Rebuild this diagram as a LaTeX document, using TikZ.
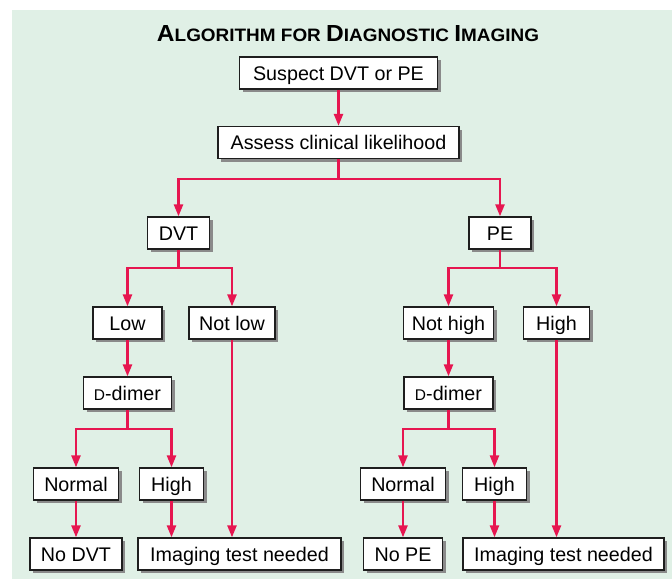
\documentclass[tikz,border=0pt]{standalone}
\usepackage{fontspec}
\setmainfont{Liberation Sans}
\usetikzlibrary{arrows.meta,shadows}

\definecolor{panelgreen}{RGB}{224,240,230}
\definecolor{flowred}{RGB}{230,22,80}
\definecolor{boxline}{RGB}{30,30,30}
\definecolor{shadowgray}{RGB}{138,138,138}

% a capital letter followed by small capitals
\newcommand{\capsmall}[2]{{\fontsize{22}{24}\selectfont #1}{\fontsize{17}{20}\selectfont #2}}
\newcommand{\smallD}{{\fontsize{15.5}{18}\selectfont D}}

\begin{document}
\begin{tikzpicture}[x=1pt,y=-1pt,
  >={Triangle[length=12pt,width=9pt]},
  stepbox/.style={draw=boxline, line width=1.3pt, fill=white,
    minimum height=32pt, inner sep=0pt,
    text height=14pt, text depth=0pt,
    font=\fontsize{19.7}{22}\selectfont,
    drop shadow={shadow xshift=3pt, shadow yshift=-3pt, fill=shadowgray, opacity=1}},
  wire/.style={draw=flowred, line width=2.4pt}
]
\useasboundingbox (0,0) rectangle (672,582);
\fill[panelgreen] (12,10) rectangle (672,579);

% heading
\node[anchor=base, inner sep=0pt] (title) at (348,41)
  {\resizebox{382pt}{16pt}{\bfseries\capsmall{A}{LGORITHM FOR }\capsmall{D}{IAGNOSTIC }\capsmall{I}{MAGING}}};

% boxes
\node[stepbox, minimum width=198pt] (suspect) at (338.5,73) {Suspect DVT or PE};
\node[stepbox, minimum width=241pt] (assess)  at (338.5,142.5) {Assess clinical likelihood};

\node[stepbox, minimum width=62pt] (dvt) at (178.5,233) {DVT};
\node[stepbox, minimum width=62pt] (pe)  at (500,233) {PE};

\node[stepbox, minimum width=69pt] (low)    at (127.5,323) {Low};
\node[stepbox, minimum width=86pt] (notlow) at (232,323) {Not low};
\node[stepbox, minimum width=90pt] (nothigh) at (448.5,323) {Not high};
\node[stepbox, minimum width=66pt] (highpe)  at (556.5,323) {High};

\node[stepbox, minimum width=88pt] (ddimA) at (127.5,393) {\smallD-dimer};
\node[stepbox, minimum width=89pt] (ddimB) at (448.5,393) {\smallD-dimer};

\node[stepbox, minimum width=85pt] (normA) at (76,484) {Normal};
\node[stepbox, minimum width=64pt] (highA) at (171.5,484) {High};
\node[stepbox, minimum width=85pt] (normB) at (403,484) {Normal};
\node[stepbox, minimum width=64pt] (highB) at (494.5,484) {High};

\node[stepbox, minimum width=92pt]  (nodvt) at (76,554) {No DVT};
\node[stepbox, minimum width=203pt] (imgA)  at (239.5,554) {Imaging test needed};
\node[stepbox, minimum width=79pt]  (nope)  at (403,554) {No PE};
\node[stepbox, minimum width=201pt] (imgB)  at (563.5,554) {Imaging test needed};

% branch levels
\coordinate (splitTop) at (338.5,179);
\coordinate (splitDvt) at (178.5,268);
\coordinate (splitPe)  at (500,268);
\coordinate (splitDa)  at (127.5,429);
\coordinate (splitDb)  at (448.5,429);

% connectors
\draw[wire,->] (suspect.south) -- (assess.north);

\draw[wire] (assess.south) -- (splitTop);
\draw[wire,<->] (dvt.north) -- (dvt.north |- splitTop) -- (pe.north |- splitTop) -- (pe.north);

\draw[wire] (dvt.south) -- (splitDvt);
\draw[wire,<->] (low.north) -- (low.north |- splitDvt) -- (notlow.north |- splitDvt) -- (notlow.north);

\draw[wire] (pe.south) -- (splitPe);
\draw[wire,<->] (nothigh.north) -- (nothigh.north |- splitPe) -- (highpe.north |- splitPe) -- (highpe.north);

\draw[wire,->] (low.south) -- (ddimA.north);
\draw[wire,->] (nothigh.south) -- (ddimB.north);

\draw[wire] (ddimA.south) -- (splitDa);
\draw[wire,<->] (normA.north) -- (normA.north |- splitDa) -- (highA.north |- splitDa) -- (highA.north);

\draw[wire] (ddimB.south) -- (splitDb);
\draw[wire,<->] (normB.north) -- (normB.north |- splitDb) -- (highB.north |- splitDb) -- (highB.north);

\draw[wire,->] (normA.south) -- (nodvt.north);
\draw[wire,->] (highA.south) -- (highA.south |- imgA.north);
\draw[wire,->] (notlow.south) -- (notlow.south |- imgA.north);

\draw[wire,->] (normB.south) -- (nope.north);
\draw[wire,->] (highB.south) -- (highB.south |- imgB.north);
\draw[wire,->] (highpe.south) -- (highpe.south |- imgB.north);
\end{tikzpicture}
\end{document}
